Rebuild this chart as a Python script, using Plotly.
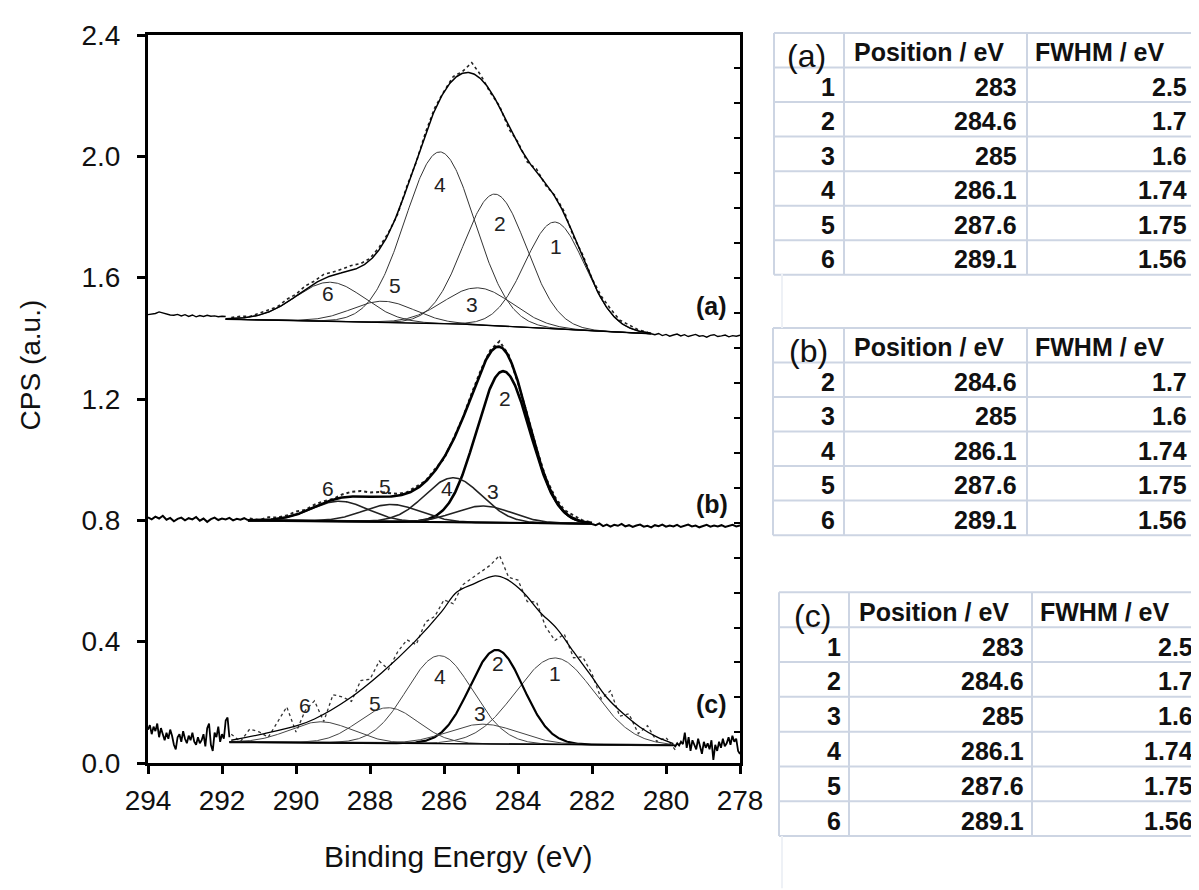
import numpy as np
import plotly.graph_objects as go

# ---------------- axis ticks ----------------
x_ticks = [294, 292, 290, 288, 286, 284, 282, 280, 278]
y_ticks = [0.0, 0.4, 0.8, 1.2, 1.6, 2.0, 2.4]

# ---------------- table contents ----------------
tab_a_ids = [1, 2, 3, 4, 5, 6]
tab_a_pos = [283, 284.6, 285, 286.1, 287.6, 289.1]
tab_a_fwhm = [2.5, 1.7, 1.6, 1.74, 1.75, 1.56]
tab_b_ids = [2, 3, 4, 5, 6]
tab_b_pos = [284.6, 285, 286.1, 287.6, 289.1]
tab_b_fwhm = [1.7, 1.6, 1.74, 1.75, 1.56]
tab_c_ids = [1, 2, 3, 4, 5, 6]
tab_c_pos = [283, 284.6, 285, 286.1, 287.6, 289.1]
tab_c_fwhm = [2.5, 1.7, 1.6, 1.74, 1.75, 1.56]

# ---------------- spectrum (a): fitted components ----------------
peak_ids_a = ["1", "2", "3", "4", "5", "6"]
peak_pos_a = [283.0, 284.62, 285.07, 286.11, 287.64, 289.08]
peak_h_a = [0.352, 0.434, 0.122, 0.566, 0.070, 0.129]
peak_w_a = [1.9, 2.0, 2.2, 2.2, 2.0, 2.2]
bg_a_x = [291.9, 285.5, 280.4]
bg_a_y = [1.463, 1.447, 1.415]
label_a_x = [282.97, 284.49, 285.24, 286.11, 287.32, 289.13]
label_a_y = [1.704, 1.779, 1.512, 1.906, 1.574, 1.548]
# raw data deviation from fit, 291.75 -> 280.5 every 0.25 eV
raw_a_dev = [0.004, 0.006, 0.002, 0.006, 0.008, 0.004, 0.010, 0.006, 0.012, 0.008,
             0.014, 0.010, 0.012, 0.016, 0.010, 0.006, 0.008, 0.004, -0.004, 0.006,
             -0.006, 0.004, 0.008, 0.002, 0.010, 0.006, 0.035, 0.012, -0.006, 0.004,
             -0.010, 0.006, -0.008, 0.010, -0.006, 0.004, 0.008, -0.006, 0.010, 0.004,
             0.008, 0.012, 0.006, 0.010, 0.004, 0.002]
# noisy solid ends of spectrum (a)
left_a_y = [1.478, 1.480, 1.482, 1.487, 1.484, 1.479, 1.477, 1.476, 1.479, 1.474, 1.478,
            1.472, 1.477, 1.471, 1.475, 1.472, 1.476, 1.473, 1.474, 1.471, 1.473, 1.472]
right_a_y = [1.415, 1.412, 1.416, 1.409, 1.413, 1.407, 1.411, 1.414, 1.408, 1.412, 1.406,
             1.410, 1.413, 1.407, 1.409, 1.404, 1.410, 1.412, 1.406, 1.408, 1.411, 1.405,
             1.409, 1.407, 1.410]

# ---------------- spectrum (b) ----------------
peak_ids_b = ["2", "3", "4", "5", "6"]
peak_pos_b = [284.40, 284.94, 285.75, 287.42, 288.82]
peak_h_b = [0.500, 0.055, 0.147, 0.057, 0.066]
peak_w_b = [1.7, 1.8, 1.8, 1.8, 1.8]
bg_b_x = [291.3, 282.0]
bg_b_y = [0.800, 0.789]
label_b_x = [284.35, 284.68, 285.92, 287.60, 289.13]
label_b_y = [1.203, 0.894, 0.904, 0.911, 0.904]
# raw deviation, 291.25 -> 282.0 every 0.25 eV
raw_b_dev = [0.006, 0.000, 0.008, 0.004, 0.006, 0.010, 0.004, 0.008, 0.006, 0.002,
             0.010, 0.016, 0.018, 0.014, 0.016, 0.012, 0.006, 0.004, 0.008, 0.002,
             0.006, -0.004, 0.004, 0.002, 0.006, 0.004, 0.008, 0.018, 0.006, -0.004,
             0.004, 0.006, 0.004, 0.008, 0.006, 0.010, 0.004, 0.002]
left_b_y = [0.810, 0.803, 0.812, 0.806, 0.815, 0.802, 0.808, 0.797, 0.805, 0.809, 0.800,
            0.807, 0.803, 0.811, 0.799, 0.806, 0.795, 0.804, 0.809, 0.801, 0.806, 0.803,
            0.808, 0.800, 0.805, 0.802, 0.807, 0.801]
right_b_y = [0.788, 0.784, 0.790, 0.781, 0.786, 0.779, 0.785, 0.782, 0.788, 0.780, 0.784,
             0.778, 0.783, 0.786, 0.779, 0.782, 0.777, 0.784, 0.781, 0.786, 0.779, 0.783,
             0.780, 0.785, 0.778, 0.782, 0.786, 0.780, 0.783, 0.777, 0.782, 0.785, 0.779,
             0.783, 0.780, 0.784, 0.778, 0.782, 0.785, 0.780, 0.783]

# ---------------- spectrum (c) ----------------
peak_ids_c = ["1", "2", "3", "4", "5", "6"]
peak_pos_c = [283.0, 284.58, 284.94, 286.12, 287.51, 289.32]
peak_h_c = [0.285, 0.310, 0.065, 0.290, 0.117, 0.069]
peak_w_c = [2.5, 1.7, 2.2, 2.1, 1.9, 2.0]
bg_c_x = [291.8, 279.8]
bg_c_y = [0.069, 0.0585]
label_c_x = [283.00, 284.54, 285.03, 286.11, 287.87, 289.76]
label_c_y = [0.296, 0.328, 0.163, 0.286, 0.195, 0.189]
# fitted envelope of (c)
env_c_x = [291.75, 290.85, 289.95, 289.5, 288.59, 287.69, 286.79, 286.07, 285.66, 285.21,
           284.62, 284.31, 283.86, 283.41, 282.95, 282.5, 282.05, 281.6, 281.15, 280.70,
           280.25, 279.8]
env_c_y = [0.075, 0.097, 0.124, 0.145, 0.210, 0.297, 0.400, 0.498, 0.563, 0.590,
           0.617, 0.606, 0.563, 0.498, 0.443, 0.367, 0.292, 0.216, 0.162, 0.118,
           0.086, 0.064]
# raw data of (c), 291.75 -> 279.75 every 0.25 eV
raw_c_y = [0.095, 0.071, 0.112, 0.103, 0.085, 0.137, 0.185, 0.102, 0.173, 0.205,
           0.137, 0.225, 0.218, 0.203, 0.272, 0.276, 0.336, 0.308, 0.367, 0.406,
           0.390, 0.465, 0.483, 0.538, 0.525, 0.587, 0.608, 0.630, 0.652, 0.684,
           0.612, 0.603, 0.532, 0.531, 0.448, 0.404, 0.425, 0.347, 0.350, 0.294,
           0.211, 0.238, 0.154, 0.162, 0.097, 0.123, 0.071, 0.084, 0.043]
left_c_y = [0.110, 0.125, 0.095, 0.120, 0.105, 0.130, 0.085, 0.115, 0.095, 0.075, 0.100,
            0.080, 0.110, 0.090, 0.060, 0.045, 0.085, 0.095, 0.070, 0.105, 0.080, 0.065,
            0.090, 0.075, 0.100, 0.070, 0.060, 0.085, 0.065, 0.075, 0.095, 0.055, 0.115,
            0.130, 0.060, 0.040, 0.100, 0.085, 0.120, 0.070, 0.095, 0.080, 0.140, 0.150,
            0.085]
right_c_y = [0.060, 0.055, 0.065, 0.058, 0.070, 0.062, 0.100, 0.050, 0.085, 0.040, 0.075,
             0.060, 0.045, 0.080, 0.055, 0.030, 0.070, 0.050, 0.065, 0.045, 0.075, 0.010,
             0.060, 0.040, 0.070, 0.050, 0.080, 0.055, 0.065, 0.085, 0.060, 0.090, 0.070,
             0.080, 0.040, 0.030]

FONT = "Liberation Sans, Arial, sans-serif"
OFF = 8  # page body margin in the browser


def gauss(x, c, h, w):
    return h * np.exp(-4 * np.log(2) * (x - c) ** 2 / w ** 2)


fig = go.Figure()


def line(x, y, width=1.0, color="black", dash="solid", shape="linear"):
    fig.add_trace(go.Scatter(x=x, y=y, mode="lines", showlegend=False, hoverinfo="skip",
                             line=dict(color=color, width=width, dash=dash, shape=shape)))


def spectrum(pos, hts, wids, bgx, bgy, xs, comp_w, comp_col, bold_idx=None, bold_w=2.2):
    bg = np.interp(xs, bgx[::-1], bgy[::-1])
    total = bg.copy()
    comps = []
    for c, h, w in zip(pos, hts, wids):
        g = gauss(xs, c, h, w)
        total += g
        comps.append(bg + g)
    for i, cy in enumerate(comps):
        if bold_idx is not None and i == bold_idx:
            line(xs, cy, bold_w, "black")
        else:
            line(xs, cy, comp_w, comp_col)
    line(bgx, bgy, comp_w + 0.4, "black")
    return total


# ----- (a) -----
xa = np.linspace(291.9, 280.4, 500)
env_a = spectrum(peak_pos_a, peak_h_a, peak_w_a, bg_a_x, bg_a_y, xa, 1.0, "#333333")
raw_a_x = np.arange(291.75, 280.49, -0.25)
raw_a_fit = np.interp(raw_a_x, xa[::-1], env_a[::-1])
line(raw_a_x, raw_a_fit + np.array(raw_a_dev), 1.6, "#222222", "dot")
line(xa, env_a, 1.5, "black")
line(np.linspace(294.0, 291.9, len(left_a_y)), left_a_y, 1.4, "black")
line(np.linspace(280.4, 278.0, len(right_a_y)), right_a_y, 1.4, "black")

# ----- (b) -----
xb = np.linspace(291.3, 282.0, 500)
env_b = spectrum(peak_pos_b, peak_h_b, peak_w_b, bg_b_x, bg_b_y, xb, 1.6, "#222222",
                 bold_idx=0, bold_w=2.6)
raw_b_x = np.arange(291.25, 281.99, -0.25)
raw_b_fit = np.interp(raw_b_x, xb[::-1], env_b[::-1])
line(raw_b_x, raw_b_fit + np.array(raw_b_dev), 2.0, "#222222", "dot")
line(xb, env_b, 2.6, "black")
line(np.linspace(294.0, 291.3, len(left_b_y)), left_b_y, 2.0, "black")
line(np.linspace(282.0, 278.0, len(right_b_y)), right_b_y, 2.0, "black")

# ----- (c) -----
xc = np.linspace(291.8, 279.8, 500)
spectrum(peak_pos_c, peak_h_c, peak_w_c, bg_c_x, bg_c_y, xc, 1.0, "#444444",
         bold_idx=1, bold_w=2.2)
raw_c_x = np.arange(291.75, 279.74, -0.25)
line(raw_c_x, raw_c_y, 1.3, "#333333", "dot")
line(env_c_x, env_c_y, 1.3, "black", shape="spline")
line(np.linspace(294.0, 291.8, len(left_c_y)), left_c_y, 1.8, "black")
line(np.linspace(279.8, 278.0, len(right_c_y)), right_c_y, 1.8, "black")

# dummy trace for right-side inner ticks
fig.add_trace(go.Scatter(x=[286], y=[None], yaxis="y2", mode="lines", showlegend=False,
                         hoverinfo="skip"))

annotations = []
for xs_, ys_, ids_ in [(label_a_x, label_a_y, peak_ids_a), (label_b_x, label_b_y, peak_ids_b),
                       (label_c_x, label_c_y, peak_ids_c)]:
    for lx, ly, t in zip(xs_, ys_, ids_):
        annotations.append(dict(x=lx, y=ly, xref="x", yref="y", text=t, showarrow=False,
                                xanchor="center", yanchor="middle",
                                font=dict(family=FONT, size=21, color="#222222")))
for t, ly in [("(a)", 1.506), ("(b)", 0.855), ("(c)", 0.195)]:
    annotations.append(dict(x=278.76, y=ly, xref="x", yref="y", text="<b>" + t + "</b>",
                            showarrow=False, xanchor="center", yanchor="middle",
                            font=dict(family=FONT, size=25, color="#111111")))

# plot area in reference pixels
PL, PR, PT, PB = 148, 740, 25, 763


def fx(px):
    return (px - PL) / float(PR - PL)


def fy(py):
    return (PB - py) / float(PB - PT)


shapes = []
GRID = "#cdd5e3"
tables = [
    dict(lab="(a)", ids=tab_a_ids, pos=tab_a_pos, fw=tab_a_fwhm, left=774, c1=844, c2=1027,
         right=1196, top=23, rh=35.0, labxy=(806, 46), h1=852, h2=1033, r0=837, r1=1019, r2=1189),
    dict(lab="(b)", ids=tab_b_ids, pos=tab_b_pos, fw=tab_b_fwhm, left=773, c1=844, c2=1027,
         right=1197, top=322, rh=35.0, labxy=(809, 345), h1=852, h2=1033, r0=837, r1=1019, r2=1189),
    dict(lab="(c)", ids=tab_c_ids, pos=tab_c_pos, fw=tab_c_fwhm, left=779, c1=849, c2=1032,
         right=1205, top=590, rh=35.3, labxy=(812, 614), h1=857, h2=1038, r0=843, r1=1026, r2=1195),
]
for T in tables:
    n = len(T["ids"]) + 1
    bottom = T["top"] + n * T["rh"]
    for k in range(n + 1):
        yy = T["top"] + k * T["rh"]
        shapes.append(dict(type="line", xref="paper", yref="paper", x0=fx(T["left"]), x1=fx(T["right"]),
                           y0=fy(yy), y1=fy(yy), line=dict(color=GRID, width=2)))
    for xx in [T["left"], T["c1"], T["c2"], T["right"]]:
        shapes.append(dict(type="line", xref="paper", yref="paper", x0=fx(xx), x1=fx(xx),
                           y0=fy(T["top"]), y1=fy(bottom), line=dict(color=GRID, width=2)))
    annotations.append(dict(x=fx(T["labxy"][0]), y=fy(T["labxy"][1]), xref="paper", yref="paper",
                            text=T["lab"], showarrow=False, xanchor="center", yanchor="middle",
                            font=dict(family=FONT, size=32, color="#111111")))
    yc = T["top"] + T["rh"] / 2 + 2
    for txt, hx in [("Position / eV", T["h1"]), ("FWHM / eV", T["h2"])]:
        annotations.append(dict(x=fx(hx), y=fy(yc), xref="paper", yref="paper",
                                text="<b>" + txt + "</b>", showarrow=False, xanchor="left",
                                yanchor="middle", font=dict(family=FONT, size=25, color="#111111")))
    for k, (i_, p_, w_) in enumerate(zip(T["ids"], T["pos"], T["fw"])):
        yc = T["top"] + (k + 1.5) * T["rh"] + 2
        for txt, rx in [(str(i_), T["r0"]), (f"{p_:g}", T["r1"]), (f"{w_:g}", T["r2"])]:
            annotations.append(dict(x=fx(rx), y=fy(yc), xref="paper", yref="paper",
                                    text="<b>" + txt + "</b>", showarrow=False, xanchor="right",
                                    yanchor="middle", font=dict(family=FONT, size=25, color="#111111")))

# faint leftover grid lines below tables
shapes.append(dict(type="line", xref="paper", yref="paper", x0=fx(782), x1=fx(782), y0=fy(267),
                   y1=fy(322), line=dict(color="#eef1f6", width=2)))
shapes.append(dict(type="line", xref="paper", yref="paper", x0=fx(782), x1=fx(782), y0=fy(837),
                   y1=fy(890), line=dict(color="#eef1f6", width=2)))

# axis titles
annotations.append(dict(x=fx(458), y=fy(858), xref="paper", yref="paper", text="Binding Energy (eV)",
                        xanchor="center", yanchor="middle",
                        showarrow=False, font=dict(family=FONT, size=30, color="#111111")))
annotations.append(dict(x=fx(30), y=fy(360), xref="paper", yref="paper", text="CPS (a.u.)",
                        xanchor="center", yanchor="middle",
                        textangle=-90, showarrow=False, font=dict(family=FONT, size=28, color="#111111")))

W, H = 1199, 890
fig.update_layout(
    width=W, height=H,
    margin=dict(l=PL - OFF, r=W - (PR - OFF), t=PT - OFF, b=H - (PB - OFF)),
    paper_bgcolor="white", plot_bgcolor="white",
    showlegend=False,
    font=dict(family=FONT, color="#111111"),
    xaxis=dict(range=[294, 278], tickvals=x_ticks, ticktext=[str(v) for v in x_ticks],
               ticks="outside", ticklen=8, tickwidth=2.5, tickcolor="black",
               showline=True, linewidth=3, linecolor="black", mirror=True,
               showgrid=False, zeroline=False, tickfont=dict(size=28, family=FONT, color="#111111"),
               ticklabelstandoff=2),
    yaxis=dict(range=[0, 2.4], tickvals=y_ticks, ticktext=[f"{v:.1f}" for v in y_ticks],
               ticks="outside", ticklen=8, tickwidth=3, tickcolor="black",
               showline=True, linewidth=3, linecolor="black", mirror=True,
               showgrid=False, zeroline=False, tickfont=dict(size=28, family=FONT, color="#111111"),
               ticklabelstandoff=11),
    yaxis2=dict(range=[0, 2.4], overlaying="y", side="right", tickmode="linear", tick0=0.1008,
                dtick=0.1153, ticks="inside", ticklen=6, tickwidth=1.5, tickcolor="black",
                showticklabels=False, showline=False, showgrid=False, zeroline=False),
    shapes=shapes,
    annotations=annotations,
)

fig.write_html("out.html")
